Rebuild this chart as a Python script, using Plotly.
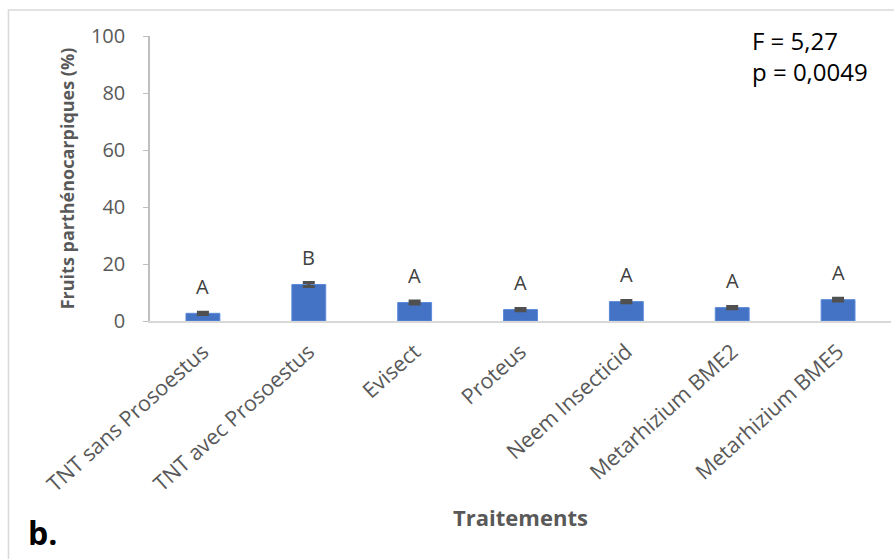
import plotly.graph_objects as go

# Treatments and mean share of parthenocarpic fruits (%) with standard errors
traitements = [
    "TNT sans Prosoestus",
    "TNT avec Prosoestus",
    "Evisect",
    "Proteus",
    "Neem Insecticid",
    "Metarhizium BME2",
    "Metarhizium BME5",
]
moyennes = [2.7, 12.8, 6.5, 4.0, 6.8, 4.7, 7.5]
erreurs = [0.4, 0.7, 0.5, 0.4, 0.4, 0.4, 0.5]
groupes = ["A", "B", "A", "A", "A", "A", "A"]

y_ticks = [0, 20, 40, 60, 80, 100]

FONT = "Open Sans"
GRIS = "#595959"

fig = go.Figure()
fig.add_trace(
    go.Bar(
        x=traitements,
        y=moyennes,
        marker=dict(color="#4472C4", line=dict(color="#5B8BD9", width=1)),
        error_y=dict(type="data", array=erreurs, visible=True,
                     color="#505050", thickness=3, width=6),
        showlegend=False,
    )
)

# Letters of the multiple-comparison groups above each bar
for cat, m, e, g in zip(traitements, moyennes, erreurs, groupes):
    fig.add_annotation(
        x=cat, y=m + e, text=g, showarrow=False,
        yanchor="bottom", yshift=10,
        font=dict(family=FONT, size=20, color="#404040"),
    )

# ANOVA statistics, top right
fig.add_annotation(
    xref="paper", yref="paper", x=0.81, y=1.05,
    xanchor="left", yanchor="top", align="left",
    text="F = 5,27<br>p = 0,0049", showarrow=False,
    font=dict(family=FONT, size=24, color="#000000"),
)

# Panel label
fig.add_annotation(
    xref="paper", yref="paper", x=-0.168, y=-0.66,
    xanchor="left", yanchor="top",
    text="<b>b.</b>", showarrow=False,
    font=dict(family=FONT, size=32, color="#000000"),
)

# Light frame around the chart area
fig.add_shape(
    type="rect", xref="paper", yref="paper",
    x0=-0.191, x1=1.05, y0=-1.2, y1=1.091,
    line=dict(color="#D9D9D9", width=1.5), fillcolor="rgba(0,0,0,0)",
    layer="below",
)

fig.update_layout(
    width=894, height=559,
    margin=dict(l=150, r=3, t=36, b=238),
    paper_bgcolor="white", plot_bgcolor="white",
    bargap=0.68,
    font=dict(family=FONT, color=GRIS),
)

fig.update_xaxes(
    title=dict(text="<b>Traitements</b>", font=dict(family=FONT, size=22, color=GRIS),
               standoff=14),
    tickangle=-42,
    tickfont=dict(family=FONT, size=21.5, color=GRIS),
    ticklabelstandoff=8,
    showline=True, linecolor="#D9D9D9", linewidth=1.5,
    ticks="", showgrid=False,
)

fig.update_yaxes(
    range=[0, 100],
    tickvals=y_ticks,
    ticktext=[str(v) for v in y_ticks],
    tickfont=dict(family=FONT, size=20, color=GRIS),
    ticks="outside", ticklen=5, tickcolor="#BFBFBF",
    ticklabelstandoff=14,
    showline=True, linecolor="#BFBFBF", linewidth=1.5,
    showgrid=False, zeroline=False,
    title=dict(text="<b>Fruits parthénocarpiques (%)</b>",
               font=dict(family=FONT, size=18, color=GRIS), standoff=12),
)

fig.write_html("out.html")
